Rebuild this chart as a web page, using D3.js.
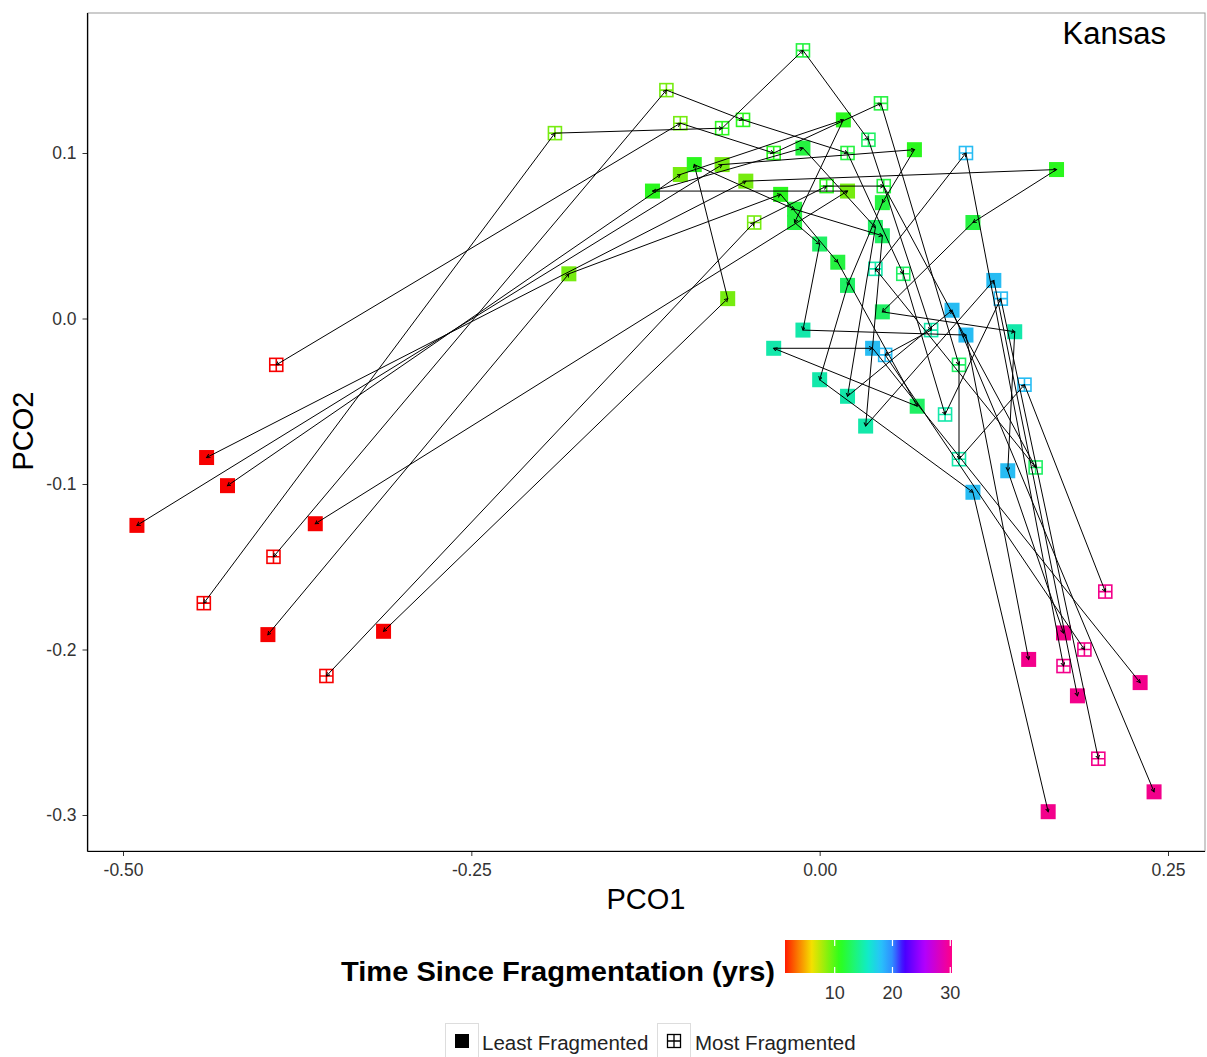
<!DOCTYPE html>
<html>
<head>
<meta charset="utf-8">
<script src="https://cdn.jsdelivr.net/npm/d3@7"></script>
<style>
  html, body { margin: 0; padding: 0; background: #fff; }
  svg { display: block; font-family: "Liberation Sans", Arial, sans-serif; }
</style>
</head>
<body>
<div id="chart"></div>
<script>
// years since fragmentation for each step of a trajectory
const years = [1, 9, 11, 12, 13, 15, 18, 30];

// least fragmented plots: one trajectory per plot, [PCO1, PCO2] per year
const least = [
  [[-0.49, -0.125], [-0.07, 0.093], [0.068, 0.102], [0.045, 0.07], [0.02, 0.02], [0.0, -0.037], [0.11, -0.105], [0.164, -0.298]],
  [[-0.44, -0.084], [-0.053, 0.083], [0.17, 0.09], [0.11, 0.058], [0.045, 0.004], [0.14, -0.008], [0.135, -0.092], [0.175, -0.19]],
  [[-0.425, -0.101], [-0.1, 0.087], [0.017, 0.12], [-0.018, 0.058], [0.0, 0.045], [-0.012, -0.007], [0.105, -0.01], [0.15, -0.206]],
  [[-0.396, -0.191], [-0.18, 0.027], [-0.028, 0.075], [0.013, 0.034], [0.07, -0.053], [-0.033, -0.018], [0.038, -0.018], [0.23, -0.22]],
  [[-0.362, -0.124], [0.02, 0.077], [-0.12, 0.077], [-0.012, 0.103], [0.04, 0.055], [0.02, -0.047], [0.095, 0.005], [0.24, -0.286]],
  [[-0.313, -0.189], [-0.066, 0.012], [-0.09, 0.093], [-0.018, 0.066], [0.045, 0.05], [0.033, -0.065], [0.125, 0.023], [0.185, -0.228]]
];

// most fragmented plots
const most = [
  [[-0.39, -0.028], [-0.1, 0.118], [-0.033, 0.1], [0.044, 0.13], [0.1, -0.028], [0.1, -0.085], [0.147, -0.04], [0.205, -0.165]],
  [[-0.392, -0.144], [-0.11, 0.138], [-0.055, 0.12], [0.02, 0.1], [0.06, 0.027], [0.09, -0.058], [0.13, 0.012], [0.2, -0.266]],
  [[-0.442, -0.172], [-0.19, 0.112], [-0.07, 0.115], [-0.012, 0.162], [0.035, 0.108], [0.08, -0.007], [0.047, -0.022], [0.19, -0.2]],
  [[-0.354, -0.216], [-0.047, 0.058], [0.005, 0.08], [0.046, 0.08], [0.155, -0.09], [0.04, 0.03], [0.105, 0.1], [0.175, -0.21]]
];

const xTicks = [-0.5, -0.25, 0, 0.25];
const yTicks = [0.1, 0, -0.1, -0.2, -0.3];
const colorTicks = [10, 20, 30];
const colorStops = [1, 1.4, 6, 10.9, 15.7, 18, 20, 22, 25.5, 30.3];
const colorRange = ["#ff0000", "#ff1a00", "#f5e000", "#2cff1a", "#10ecc8", "#28c2fa", "#2f8cff", "#4400ff", "#b000ff", "#ff0088"];
const groupLabels = ["Least Fragmented", "Most Fragmented"];

const W = 1207, H = 1057;
const svg = d3.select("#chart").append("svg").attr("width", W).attr("height", H);

const x = d3.scaleLinear().domain([-0.5, 0.25]).range([123, 1168]);
const y = d3.scaleLinear().domain([0.1, -0.3]).range([153, 815]);
const color = d3.scaleLinear().domain(colorStops).range(colorRange).clamp(true);
const pointColor = t => d3.interpolateRgb(color(t), "#000")(0.03);

const panel = { left: 88, right: 1205, top: 13, bottom: 851 };
const minus = v => v.replace("\u2212", "-");

// panel border
svg.append("rect")
  .attr("x", panel.left).attr("y", panel.top)
  .attr("width", panel.right - panel.left).attr("height", panel.bottom - panel.top)
  .attr("fill", "none").attr("stroke", "#999").attr("stroke-width", 1);

// small arrow marker
const defs = svg.append("defs");
defs.append("marker")
  .attr("id", "arr").attr("markerUnits", "userSpaceOnUse")
  .attr("markerWidth", 6).attr("markerHeight", 6)
  .attr("refX", 3.5).attr("refY", 2).attr("orient", "auto-start-reverse")
  .append("path").attr("d", "M0,0L3.5,2L0,4")
  .attr("fill", "none").attr("stroke", "#000").attr("stroke-width", 1);

const S = 15;
const g = svg.append("g");

function drawPoints(trajs, open) {
  trajs.forEach(tr => {
    tr.forEach(([px, py], i) => {
      const c = pointColor(years[i]);
      const cx = x(px), cy = y(py);
      if (!open) {
        g.append("rect").attr("x", cx - S / 2).attr("y", cy - S / 2)
          .attr("width", S).attr("height", S).attr("fill", c);
      } else {
        const s = S - 2;
        g.append("rect").attr("x", cx - s / 2).attr("y", cy - s / 2)
          .attr("width", s).attr("height", s).attr("fill", "none")
          .attr("stroke", c).attr("stroke-width", 1.6);
        g.append("path")
          .attr("d", `M${cx - s / 2},${cy}H${cx + s / 2}M${cx},${cy - s / 2}V${cy + s / 2}`)
          .attr("stroke", c).attr("stroke-width", 1.6);
      }
    });
  });
}
drawPoints(least, false);
drawPoints(most, true);

// trajectories
[...least, ...most].forEach(tr => {
  d3.pairs(tr).forEach(([a, b], i) => {
    const seg = g.append("line")
      .attr("x1", x(a[0])).attr("y1", y(a[1]))
      .attr("x2", x(b[0])).attr("y2", y(b[1]))
      .attr("stroke", "#000").attr("stroke-width", 1)
      .attr("marker-end", "url(#arr)");
    if (i === 0) seg.attr("marker-start", "url(#arr)");
  });
});

// axes
const xAxis = svg.append("g").attr("transform", `translate(0,${panel.bottom})`)
  .call(d3.axisBottom(x).tickValues(xTicks).tickFormat(d => minus(d3.format(".2f")(d))).tickSizeOuter(0).tickSize(5).tickPadding(8));
const yAxis = svg.append("g").attr("transform", `translate(${panel.left - 0.5},0)`)
  .call(d3.axisLeft(y).tickValues(yTicks).tickFormat(d => minus(d3.format(".1f")(d))).tickSizeOuter(0).tickSize(5).tickPadding(6));
[xAxis, yAxis].forEach(ax => {
  ax.select(".domain").remove();
  ax.selectAll(".tick line").attr("stroke", "#333");
  ax.selectAll(".tick text").attr("fill", "#333").style("font-size", "17.5px")
    .style("font-family", '"Liberation Sans", Arial, sans-serif');
});
svg.append("line").attr("x1", panel.left - 0.5).attr("x2", panel.left - 0.5)
  .attr("y1", panel.top).attr("y2", panel.bottom + 0.5).attr("stroke", "#000").attr("stroke-width", 1.2);
svg.append("line").attr("x1", panel.left - 0.5).attr("x2", panel.right)
  .attr("y1", panel.bottom + 0.5).attr("y2", panel.bottom + 0.5).attr("stroke", "#000").attr("stroke-width", 1.2);

// titles
svg.append("text").attr("x", 646).attr("y", 909).attr("text-anchor", "middle")
  .style("font-size", "29px").text("PCO1");
svg.append("text").attr("transform", "translate(33,431) rotate(-90)").attr("text-anchor", "middle")
  .style("font-size", "29px").text("PCO2");
svg.append("text").attr("x", 1166).attr("y", 44).attr("text-anchor", "end")
  .style("font-size", "31px").text("Kansas");

// colour legend
svg.append("text").attr("x", 341).attr("y", 981)
  .attr("textLength", 434).attr("lengthAdjust", "spacingAndGlyphs")
  .style("font-size", "28px").style("font-weight", "bold").text("Time Since Fragmentation (yrs)");
const cb = d3.scaleLinear().domain([1.4, 30.3]).range([785, 952]);
const grad = defs.append("linearGradient").attr("id", "cbar");
d3.range(0, 1.0001, 0.02).forEach(f => {
  const t = 1.4 + f * (30.3 - 1.4);
  grad.append("stop").attr("offset", f).attr("stop-color", color(t));
});
svg.append("rect").attr("x", 785).attr("y", 940).attr("width", 167).attr("height", 33)
  .attr("fill", "url(#cbar)");
colorTicks.forEach(t => {
  svg.append("line").attr("x1", cb(t)).attr("x2", cb(t)).attr("y1", 940).attr("y2", 946)
    .attr("stroke", "#fff").attr("stroke-width", 1.2);
  svg.append("line").attr("x1", cb(t)).attr("x2", cb(t)).attr("y1", 967).attr("y2", 973)
    .attr("stroke", "#fff").attr("stroke-width", 1.2);
  svg.append("text").attr("x", cb(t)).attr("y", 999).attr("text-anchor", "middle")
    .attr("fill", "#333").style("font-size", "18px").text(t);
});

// shape legend
const keys = [{ x: 445, tx: 482, open: false }, { x: 657, tx: 695, open: true }];
keys.forEach((k, i) => {
  svg.append("rect").attr("x", k.x + 0.5).attr("y", 1023.5).attr("width", 33).attr("height", 34)
    .attr("fill", "#fff").attr("stroke", "#ddd");
  const cx = k.x + 17, cy = 1041;
  if (!k.open) {
    svg.append("rect").attr("x", cx - 7).attr("y", cy - 7).attr("width", 14).attr("height", 14).attr("fill", "#000");
  } else {
    svg.append("rect").attr("x", cx - 6.5).attr("y", cy - 6.5).attr("width", 13).attr("height", 13)
      .attr("fill", "none").attr("stroke", "#000").attr("stroke-width", 1.3);
    svg.append("path").attr("d", `M${cx - 6.5},${cy}H${cx + 6.5}M${cx},${cy - 6.5}V${cy + 6.5}`)
      .attr("stroke", "#000").attr("stroke-width", 1.3);
  }
  svg.append("text").attr("x", k.tx).attr("y", 1050).style("font-size", "20.5px")
    .attr("fill", "#222").text(groupLabels[i]);
});
</script>
</body>
</html>
